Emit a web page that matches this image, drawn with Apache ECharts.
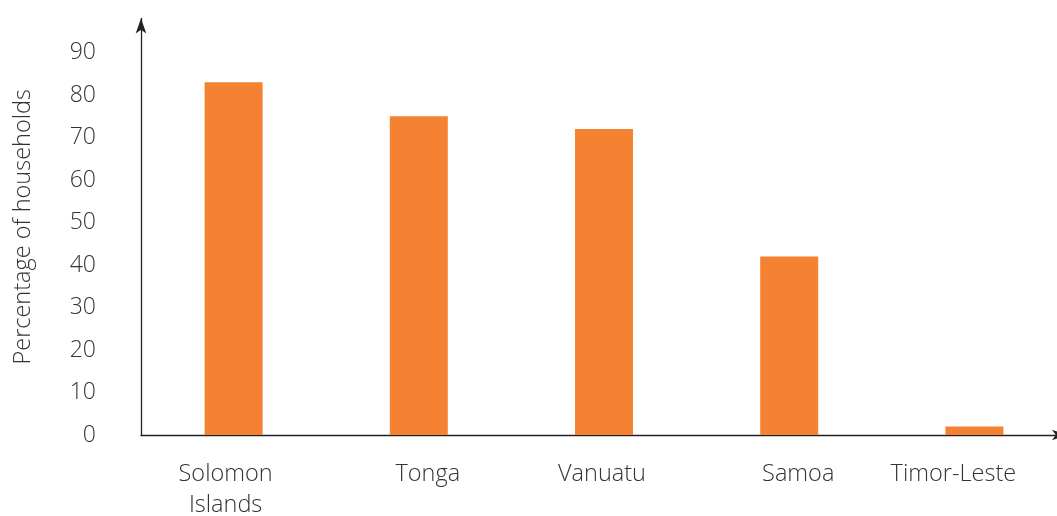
<!DOCTYPE html>
<html>
<head>
<meta charset="utf-8">
<script src="https://cdn.jsdelivr.net/npm/echarts@6/dist/echarts.min.js"></script>
<style>
html,body{margin:0;padding:0;background:#fff;}
#chart{width:1057px;height:516px;}
</style>
</head>
<body>
<div id="chart"></div>
<script>
const categories = ['Solomon\nIslands', 'Tonga', 'Vanuatu', 'Samoa', 'Timor-Leste'];
const values = [83, 75, 72, 42, 2];
const yTicks = [0, 10, 20, 30, 40, 50, 60, 70, 80, 90];
// label padding [left, right] to nudge category labels like the reference
const labelPads = [[0, 16], [18, 0], [0, 4], [18, 0], [0, 42]];

const FONT = '"Open Sans", "Segoe UI", sans-serif';
const chart = echarts.init(document.getElementById('chart'), null, {renderer: 'canvas'});
chart.setOption({
  animation: false,
  backgroundColor: '#ffffff',
  grid: {left: 141, right: -10, top: 18.5, bottom: 81, containLabel: false, outerBoundsMode: 'none'},
  xAxis: {
    type: 'category',
    data: categories.map(function (c, i) {
      return {value: c, textStyle: {padding: [0, labelPads[i][1], 0, labelPads[i][0]]}};
    }),
    axisLine: {show: true, lineStyle: {color: '#222', width: 1.3}, symbol: ['none', 'arrow'], symbolSize: [8, 15]},
    axisTick: {show: false},
    axisLabel: {
      color: '#333', fontFamily: FONT, fontSize: 23.5, fontWeight: 300,
      lineHeight: 31, margin: 24, interval: 0, hideOverlap: false
    }
  },
  yAxis: {
    type: 'value',
    min: 0,
    max: 98,
    interval: 10,
    name: 'Percentage of households',
    nameLocation: 'middle',
    nameGap: 106,
    nameRotate: 90,
    nameTextStyle: {color: '#333', fontFamily: FONT, fontSize: 23.5, fontWeight: 300},
    axisLine: {show: true, lineStyle: {color: '#222', width: 1.3}, symbol: ['none', 'arrow'], symbolSize: [8, 15]},
    axisTick: {show: false},
    splitLine: {show: false},
    axisLabel: {
      color: '#333', fontFamily: FONT, fontSize: 23, fontWeight: 300, margin: 45,
      showMaxLabel: false,
      formatter: function (v) { return yTicks.indexOf(v) >= 0 ? String(v) : ''; }
    }
  },
  series: [{
    type: 'bar',
    data: values,
    barWidth: 58,
    itemStyle: {color: '#F58233'}
  }]
});
</script>
</body>
</html>
